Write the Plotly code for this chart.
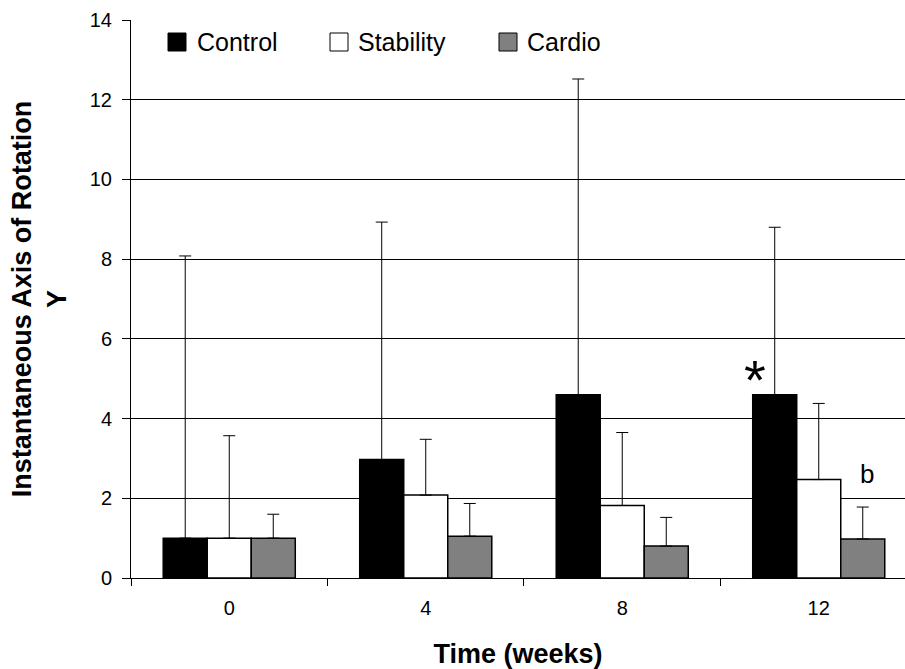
import plotly.graph_objects as go

weeks = ["0", "4", "8", "12"]
control = [1.0, 2.97, 4.6, 4.6]
control_err_top = [8.08, 8.93, 12.52, 8.8]
stability = [1.0, 2.08, 1.82, 2.47]
stability_err_top = [3.57, 3.48, 3.65, 4.38]
cardio = [1.0, 1.05, 0.8, 0.98]
cardio_err_top = [1.6, 1.87, 1.52, 1.78]
y_ticks = [0, 2, 4, 6, 8, 10, 12, 14]

FONT = "Arial, 'Liberation Sans', sans-serif"

series = [
    ("Control", control, control_err_top, "#000000"),
    ("Stability", stability, stability_err_top, "#ffffff"),
    ("Cardio", cardio, cardio_err_top, "#808080"),
]

W, H = 905, 669
ML, MR, MT, MB = 131, 0, 20, 91
PW, PH = W - ML - MR, H - MT - MB


def px(xp):
    return (xp - ML) / PW


def py(yp):
    return (H - MB - yp) / PH


fig = go.Figure()
for name, vals, tops, color in series:
    fig.add_trace(go.Bar(
        name=name, x=weeks, y=vals, showlegend=False,
        marker=dict(color=color, line=dict(color="#000000", width=1.5)),
        error_y=dict(type="data", symmetric=False,
                     array=[t - v for t, v in zip(tops, vals)],
                     arrayminus=[0] * len(vals),
                     color="#000000", thickness=1, width=6),
    ))

fig.update_layout(
    width=W, height=H,
    margin=dict(l=ML, r=MR, t=MT, b=MB),
    paper_bgcolor="white", plot_bgcolor="white",
    barmode="group", bargap=0.328, bargroupgap=0,
    font=dict(family=FONT, size=20, color="#000000"),
    showlegend=False,
    xaxis=dict(type="category", range=[-0.5, 3.439],
               tickson="boundaries", ticks="outside", ticklen=7, tickcolor="#000",
               showline=True, linecolor="#000", linewidth=1,
               showgrid=False, ticklabelstandoff=12,
               title=dict(text="<b>Time (weeks)</b>", font=dict(size=27), standoff=26),
               tickfont=dict(size=20)),
    yaxis=dict(range=[0, 14], tickvals=y_ticks, ticks="outside", ticklen=8,
               tickcolor="#000", showline=True, linecolor="#000", linewidth=1,
               showgrid=True, gridcolor="#000000", gridwidth=1, zeroline=False,
               ticklabelstandoff=6,
               title=dict(text="<b>Instantaneous Axis of Rotation<br>Y</b>",
                          font=dict(size=27), standoff=15),
               tickfont=dict(size=20)),
)

# legend drawn as squares + text inside the plot area
legend_items = [("Control", "#000000", 168, 195),
                ("Stability", "#ffffff", 330, 356),
                ("Cardio", "#808080", 499, 525)]
for name, color, sx, tx in legend_items:
    fig.add_shape(type="rect", xref="paper", yref="paper",
                  x0=px(sx), x1=px(sx + 18), y0=py(51), y1=py(33),
                  fillcolor=color, line=dict(color="#000000", width=1))
    fig.add_annotation(x=px(tx), y=py(42), xref="paper", yref="paper",
                       text=name, showarrow=False, xanchor="left", yanchor="middle",
                       font=dict(size=25, family=FONT))

fig.add_annotation(x=3, y=4.97, xref="x", yref="y", text="*", showarrow=False,
                   xshift=-64, font=dict(size=56, family=FONT), yanchor="middle")
fig.add_annotation(x=3, y=2.62, xref="x", yref="y", text="b", showarrow=False,
                   xshift=48, font=dict(size=26, family=FONT), yanchor="middle")

fig.write_html("out.html")
